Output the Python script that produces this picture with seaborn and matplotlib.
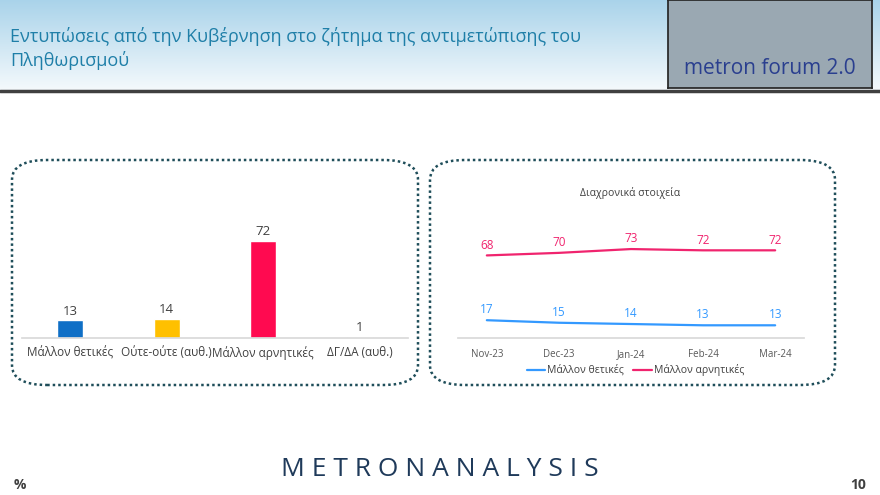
import matplotlib
matplotlib.use("Agg")
import matplotlib.pyplot as plt
import seaborn as sns
import numpy as np
import pandas as pd
from matplotlib.patches import FancyBboxPatch

sns.set_theme(style="white")
plt.rcParams["font.family"] = ["Open Sans", "DejaVu Sans"]

# ---------- data ----------
bar_labels = ["Μάλλον θετικές", "Ούτε-ούτε (αυθ.)", "Μάλλον αρνητικές", "ΔΓ/ΔΑ (αυθ.)"]
bar_values = [13, 14, 72, 1]
bar_colors = ["#0f6fc6", "#ffc000", "#ff0a50", "#7f7f7f"]

months = ["Nov-23", "Dec-23", "Jan-24", "Feb-24", "Mar-24"]
positive = [17, 15, 14, 13, 13]
negative = [68, 70, 73, 72, 72]

W, H = 880, 495
fig = plt.figure(figsize=(8.8, 4.95), dpi=100)

def px_axes(x0, y0, x1, y1, **kw):
    # pixel box (top-left origin) -> figure axes
    return fig.add_axes([x0 / W, 1 - y1 / H, (x1 - x0) / W, (y1 - y0) / H], **kw)

# header gradient
hdr = px_axes(0, 0, W, 90)
grad = np.linspace(0, 1, 100).reshape(-1, 1)
hdr.imshow(grad, aspect="auto", cmap=matplotlib.colors.LinearSegmentedColormap.from_list(
    "h", ["#a9d3ea", "#f4f9fc"]), extent=[0, 1, 0, 1])
hdr.axis("off")
fig.add_artist(plt.Line2D([0, 1], [1 - 91 / H] * 2, color="#404040", lw=2.5))
fig.text(10 / W, 1 - 37 / H, "Εντυπώσεις από την Κυβέρνηση στο ζήτημα της αντιμετώπισης του",
         color="#1f7fa8", fontsize=13, va="center")
fig.text(10 / W, 1 - 61 / H, "Πληθωρισμού", color="#1f7fa8", fontsize=13, va="center")

# logo box
logo = px_axes(668, 0, 872, 88)
logo.set_facecolor("#9aa8b2")
logo.set_xticks([]); logo.set_yticks([])
logo.text(0.5, 0.22, "metron forum 2.0", ha="center", va="center",
          color="#2a3f8f", fontsize=15, transform=logo.transAxes)

# rounded dotted boxes
for x0, x1 in [(12, 418), (430, 835)]:
    fig.add_artist(FancyBboxPatch((x0 / W, 1 - 385 / H), (x1 - x0) / W, 225 / H,
                                  boxstyle="round,pad=0,rounding_size=0.04",
                                  fill=False, ec="#1f4e5a", lw=1.8, ls=(0, (1, 1.2)),
                                  transform=fig.transFigure))

# ---------- bar chart ----------
ax1 = px_axes(22, 230, 408, 338)
df_bar = pd.DataFrame({"label": bar_labels, "value": bar_values})
sns.barplot(data=df_bar, x="label", y="value", hue="label", palette=bar_colors,
            width=0.27, saturation=1, legend=False, ax=ax1)
ax1.set_ylim(0, 80)
ax1.set_xlabel(""); ax1.set_ylabel("")
ax1.set_yticks([])
ax1.tick_params(axis="x", labelsize=8.5, colors="#404040", length=0, pad=6)
for i, v in enumerate(bar_values):
    ax1.text(i, v + 2, str(v), ha="center", va="bottom", fontsize=9.5, color="#404040")
sns.despine(ax=ax1, left=True)
ax1.spines["bottom"].set_color("#d9d9d9")
ax1.patch.set_alpha(0)

# ---------- line chart ----------
ax2 = px_axes(458, 230, 804, 338)
df_line = pd.DataFrame({"month": months * 2,
                        "value": positive + negative,
                        "series": ["Μάλλον θετικές"] * 5 + ["Μάλλον αρνητικές"] * 5})
sns.lineplot(data=df_line, x="month", y="value", hue="series", sort=False,
             palette=["#3399ff", "#f0246e"], lw=1.6, ax=ax2, legend=False)
ax2.set_ylim(3, 88)
ax2.set_xlim(-0.4, 4.4)
ax2.set_xlabel(""); ax2.set_ylabel("")
ax2.set_yticks([])
ax2.tick_params(axis="x", labelsize=7, colors="#595959", length=0, pad=8)
for i in range(5):
    ax2.text(i, positive[i] + 3, str(positive[i]), ha="center", va="bottom", fontsize=8.5,
             color="#3399ff", clip_on=False)
    ax2.text(i, negative[i] + 3, str(negative[i]), ha="center", va="bottom", fontsize=8.5,
             color="#f0246e", clip_on=False)
sns.despine(ax=ax2, left=True)
ax2.spines["bottom"].set_color("#d9d9d9")
ax2.patch.set_alpha(0)
fig.text(630 / W, 1 - 193 / H, "Διαχρονικά στοιχεία", ha="center", va="center",
         fontsize=7.5, color="#404040")

# legend
fig.add_artist(plt.Line2D([527 / W, 545 / W], [1 - 370 / H] * 2, color="#3399ff", lw=1.6))
fig.text(547 / W, 1 - 370 / H, "Μάλλον θετικές", va="center", fontsize=7.5, color="#404040")
fig.add_artist(plt.Line2D([633 / W, 652 / W], [1 - 370 / H] * 2, color="#f0246e", lw=1.6))
fig.text(654 / W, 1 - 370 / H, "Μάλλον αρνητικές", va="center", fontsize=7.5, color="#404040")

# footer
fig.text(440 / W, 1 - 470 / H, "M E T R O N A N A L Y S I S", ha="center", va="center",
         fontsize=19, color="#1f3a5a")
fig.text(14 / W, 1 - 485 / H, "%", fontsize=10, fontweight="bold", color="#404040", va="center")
fig.text(866 / W, 1 - 485 / H, "10", fontsize=10, fontweight="bold", color="#404040",
         va="center", ha="right")

fig.savefig("out.png", dpi=100)
